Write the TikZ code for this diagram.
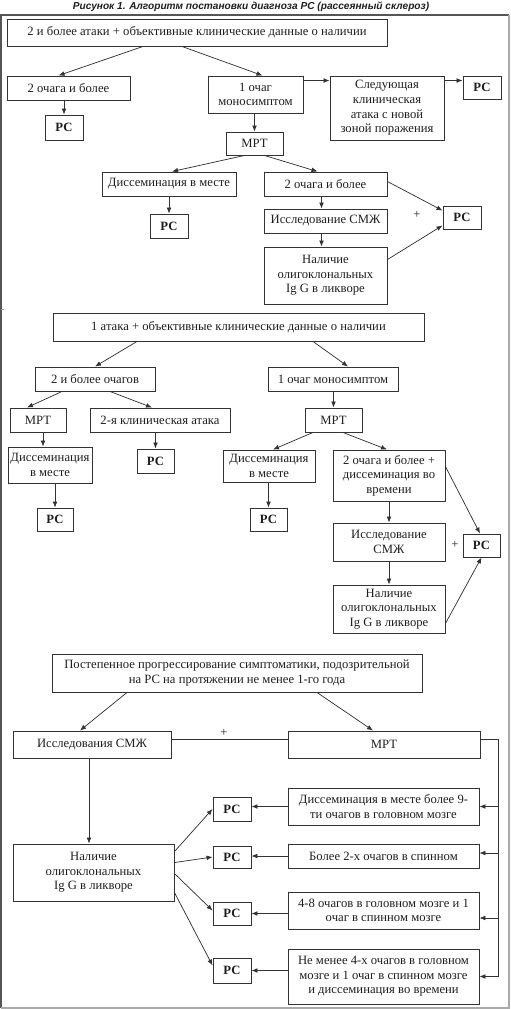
\documentclass[tikz,border=0pt]{standalone}
\usepackage{fontspec}
\setmainfont{Liberation Serif}
\newfontfamily\titlefont{Liberation Sans}
\usetikzlibrary{arrows.meta,calc}
\definecolor{lc}{HTML}{333333}
\definecolor{tc}{HTML}{1E1E1E}
\definecolor{fr1}{HTML}{555555}
\definecolor{fr2}{HTML}{AAAAAA}
\tikzset{x=0.75pt,y=-0.75pt,
 box/.style={draw=lc,line width=0.7pt,inner sep=0pt,align=center,font=\fontsize{9.5}{11}\selectfont,text=tc},
 pc/.style={font=\fontsize{9.5}{11}\selectfont\bfseries},
 arr/.style={draw=lc,line width=0.55pt,-{Latex[length=4.5pt,width=3.6pt]}},
 ln/.style={draw=lc,line width=0.55pt},
 plus/.style={font=\fontsize{9.5}{11}\selectfont,text=tc,inner sep=0pt}}
\newcommand{\mkbox}[7][]{%
 \pgfmathsetmacro{\mbw}{(#5-#3)*0.75}%
 \pgfmathsetmacro{\mbh}{(#6-#4)*0.75}%
 \node[box,minimum width=\mbw pt,minimum height=\mbh pt,#1] (#2) at ({(#3+#5)/2},{(#4+#6)/2}) {#7};}
\newcommand{\varr}[3]{\draw[arr] let \p1=($(#1.south)+(#3,0)$), \p2=(#2.north) in (\x1,\y1) -- (\x1,\y2);}
\begin{document}
\begin{tikzpicture}
\useasboundingbox (0,0) rectangle (510,1009);
% frame
\draw[draw=fr1,line width=0.8pt] (1,1008) -- (1,15) -- (509,15);
\draw[draw=fr2,line width=0.8pt] (509,15) -- (509,1008) -- (1,1008);
\draw[draw=fr2,line width=0.6pt] (1,309) -- (4,309);
% title
\node[font=\titlefont\bfseries\itshape\fontsize{7.6}{9}\selectfont,text=tc,inner sep=0pt] (title) at (251,7) {Рисунок 1. Алгоритм постановки диагноза РС (рассеянный склероз)};
% ===== panel 1
\mkbox{A1}{7}{19}{387}{46}{2 и более атаки + объективные клинические данные о наличии}
\mkbox{B11}{7}{76}{130}{100}{2 очага и более}
\mkbox{B12}{208}{76}{303}{113}{1 очаг\\моносимптом}
\mkbox{B13}{330}{76}{444}{140}{Следующая\\клиническая\\атака с новой\\зоной поражения}
\mkbox[pc]{P11}{463}{76}{501}{99}{РС}
\mkbox[pc]{P12}{45}{115}{83}{140}{РС}
\mkbox{M11}{226}{132}{283}{155}{МРТ}
\mkbox{D11}{102}{172}{236}{196}{Диссеминация в месте}
\mkbox{Q11}{264}{172}{387}{196}{2 очага и более}
\mkbox[pc]{P13}{150}{214}{188}{238}{РС}
\mkbox{S11}{264}{209}{387}{233}{Исследование СМЖ}
\mkbox{N11}{264}{247}{387}{304}{Наличие\\олигоклональных\\Ig G в ликворе}
\mkbox[pc]{P14}{443}{206}{481}{229}{РС}
\draw[arr] ($(A1.south)+(-54,0)$) -- ($(B11.north)+(-10,0)$);
\draw[arr] ($(A1.south)+(-15,0)$) -- ($(B12.north)+(7,0)$);
\draw[arr] ($(B12.north east)+(0,5)$) -- ($(B13.north west)+(0,5)$);
\draw[arr] ($(B13.north east)+(0,5)$) -- ($(P11.north west)+(0,5)$);
\draw[arr] (P12.north |- B11.south) -- (P12.north);
\draw[arr] (M11.north |- B12.south) -- (M11.north);
\draw[arr] ($(M11.south)+(-10,0)$) -- ($(D11.north)+(3,0)$);
\draw[arr] ($(M11.south)+(10,0)$) -- ($(Q11.north)+(-8,0)$);
\draw[arr] (P13.north |- D11.south) -- (P13.north);
\varr{Q11}{S11}{-4}
\varr{S11}{N11}{-4}
\draw[arr] ($(Q11.north east)+(0,10)$) -- ($(P14.north west)+(0,5)$);
\draw[arr] ($(N11.north east)+(0,13)$) -- ($(P14.south west)+(0,-4)$);
\node[plus] (plus1) at (417,215) {+};
% ===== panel 2
\mkbox{A2}{53}{313}{424}{341}{1 атака + объективные клинические данные о наличии}
\mkbox{B21}{35}{367}{155}{391}{2 и более очагов}
\mkbox{B22}{268}{367}{398}{391}{1 очаг моносимптом}
\mkbox{M21}{10}{408}{66}{432}{МРТ}
\mkbox{K21}{90}{408}{230}{432}{2-я клиническая атака}
\mkbox{M22}{305}{408}{362}{432}{МРТ}
\mkbox{D21}{8}{447}{92}{483}{Диссеминация\\в месте}
\mkbox[pc]{P21}{137}{449}{174}{473}{РС}
\mkbox{D22}{223}{450}{315}{482}{Диссеминация\\в месте}
\mkbox{Q22}{333}{450}{445}{501}{2 очага и более +\\диссеминация во\\времени}
\mkbox[pc]{P22}{37}{508}{73}{531}{РС}
\mkbox[pc]{P23}{250}{508}{287}{531}{РС}
\mkbox{S22}{333}{523}{445}{561}{Исследование\\СМЖ}
\mkbox{N22}{333}{585}{445}{633}{Наличие\\олигоклональных\\Ig G в ликворе}
\mkbox[pc]{P24}{463}{534}{500}{557}{РС}
\draw[arr] ($(A2.south)+(-101.5,0)$) -- (B21.north);
\draw[arr] ($(A2.south)+(74.5,0)$) -- ($(B22.north)+(15,0)$);
\draw[arr] ($(B21.south)+(-33,0)$) -- ($(M21.north)+(-11,0)$);
\draw[arr] ($(B21.south)+(15,0)$) -- ($(K21.north)+(-8,0)$);
\draw[arr] (M22.north |- B22.south) -- (M22.north);
\varr{M21}{D21}{5}
\draw[arr] (P21.north |- K21.south) -- (P21.north);
\draw[arr] (P22.north |- D21.south) -- (P22.north);
\draw[arr] ($(M22.south)+(-20.5,0)$) -- ($(D22.north)+(4,0)$);
\draw[arr] ($(M22.south)+(9.5,0)$) -- ($(Q22.north)+(-2,0)$);
\draw[arr] (P23.north |- D22.south) -- (P23.north);
\draw[arr] (Q22.south) -- (S22.north);
\draw[arr] (S22.south) -- (N22.north);
\draw[arr] ($(Q22.north east)+(0,17)$) -- ($(P24.north)+(-1.5,0)$);
\draw[arr] ($(N22.south east)+(0,-10)$) -- (P24.south);
\node[plus] (plus2) at (455,545) {+};
% ===== panel 3
\mkbox{A3}{52}{654}{422}{692}{Постепенное прогрессирование симптоматики, подозрительной\\на РС на протяжении не менее 1-го года}
\mkbox{S3}{13}{731}{171}{758}{Исследования СМЖ}
\mkbox{M3}{288}{731}{480}{758}{МРТ}
\mkbox{R1}{288}{788}{479}{825}{Диссеминация в месте более 9-\\ти очагов в головном мозге}
\mkbox{R2}{288}{844}{479}{868}{Более 2-х очагов в спинном}
\mkbox{R3}{288}{892}{479}{929}{4-8 очагов в головном мозге и 1\\очаг в спинном мозге}
\mkbox{R4}{288}{949}{479}{1004}{Не менее 4-х очагов в головном\\мозге и 1 очаг в спинном мозге\\и диссеминация во времени}
\mkbox{N3}{13}{844}{174}{901}{Наличие\\олигоклональных\\Ig G в ликворе}
\mkbox[pc]{P31}{213}{797}{251}{821}{РС}
\mkbox[pc]{P32}{213}{846}{251}{868}{РС}
\mkbox[pc]{P33}{213}{902}{251}{925}{РС}
\mkbox[pc]{P34}{213}{958}{251}{983}{РС}
\draw[arr] ($(A3.south)+(-110,0)$) -- ($(S3.north)+(-12,0)$);
\draw[arr] ($(A3.south)+(80,0)$) -- ($(M3.north)+(-11,0)$);
\draw[ln] ($(S3.east)+(0,-5.5)$) -- ($(M3.west)+(0,-5.5)$);
\node[plus] (plus3) at (224,733) {+};
\varr{S3}{N3}{-3}
\coordinate (rt) at ($(M3.east)+(18,-5.5)$);
\coordinate (r2) at ($(R2.east)+(0,-3)$);
\coordinate (r3) at ($(R3.east)+(0,7.5)$);
\draw[ln] ($(M3.east)+(0,-5.5)$) -- (rt) -- (rt |- R4.east);
\draw[arr] (rt |- R1.east) -- (R1.east);
\draw[arr] (rt |- r2) -- (r2);
\draw[arr] (rt |- r3) -- (r3);
\draw[arr] (rt |- R4.east) -- (R4.east);
\draw[arr] (R1.west) -- (R1.west -| P31.east);
\draw[arr] (R2.west) -- (R2.west -| P32.east);
\draw[arr] (P33.east -| R3.west) -- (P33.east);
\draw[arr] (P34.east -| R4.west) -- (P34.east);
\draw[arr] ($(N3.north east)+(0,8)$) -- (P31.west);
\draw[arr] ($(N3.north east)+(0,19)$) -- (P32.west);
\draw[arr] ($(N3.north east)+(0,30)$) -- ($(P33.west)+(0,-3)$);
\draw[arr] ($(N3.north east)+(0,49)$) -- ($(P34.west)+(0,-5)$);
\end{tikzpicture}
\end{document}
